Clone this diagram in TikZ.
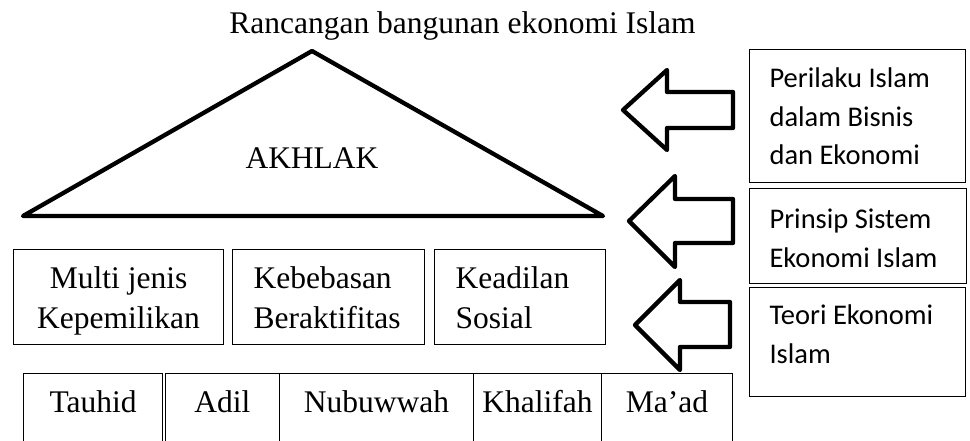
\documentclass[tikz,border=0pt]{standalone}
\usepackage{fontspec}
\setmainfont{Liberation Serif}
\newfontfamily\calfont{Carlito}
\begin{document}
\begin{tikzpicture}[x=1pt,y=-1pt,
  thinline/.style={draw, line width=1.1pt},
  thickline/.style={draw, line width=4.3pt, line join=round},
  serif/.style={font=\fontsize{31.5}{40}\selectfont},
  midbox/.style={thinline, serif, anchor=north west, inner sep=0pt,
    minimum height=95pt, text height=39pt, text depth=56pt},
  cellbox/.style={thinline, serif, anchor=north west, inner sep=0pt,
    minimum height=90pt, text height=39pt, text depth=51pt},
  rbox/.style={thinline, anchor=north west, inner sep=0pt,
    font=\calfont\fontsize{28.5}{38.5}\selectfont}
]
\useasboundingbox (0,0) rectangle (970,440);

% title
\node[serif, anchor=base] (title) at (462.5,33) {Rancangan bangunan ekonomi Islam};

% roof
\coordinate (tl) at (23,216);
\coordinate (tt) at (312,51);
\coordinate (tr) at (603,216);
\draw[thickline] (tl) -- (tt) -- (tr) -- cycle;
\node[serif, anchor=base] (akhlak) at (312,168) {AKHLAK};

% middle row
\node[midbox, minimum width=210pt] (kep) at (13,249)
  {\begin{tabular}[t]{@{}c@{}}Multi jenis\\Kepemilikan\end{tabular}};
\node[midbox, minimum width=192pt] (keb) at (232,249)
  {\makebox[150pt][l]{\begin{tabular}[t]{@{}l@{}}Kebebasan\\Beraktifitas\end{tabular}}};
\node[midbox, minimum width=171pt] (kead) at (434,249)
  {\makebox[129pt][l]{\begin{tabular}[t]{@{}l@{}}Keadilan\\Sosial\end{tabular}}};

% bottom row (runs off the lower edge)
\begin{scope}
\clip (0,0) rectangle (970,440);
\node[cellbox, minimum width=139pt] (tauhid) at (23,373) {Tauhid};
\node[cellbox, minimum width=114.5pt] (adil) at (164.5,373) {Adil};
\node[cellbox, minimum width=194pt] (nubu) at (279,373) {Nubuwwah};
\node[cellbox, minimum width=128pt] (khal) at (473,373) {Khalifah};
\node[cellbox, minimum width=131pt] (maad) at (601,373) {Ma’ad};
\end{scope}

% block arrows
\draw[thickline] (623,110) -- (667,70) -- (667,92) -- (733,92) -- (733,128)
  -- (667,128) -- (667,150) -- cycle;
\draw[thickline] (629,221) -- (675,176) -- (675,199) -- (733,199) -- (733,243)
  -- (675,243) -- (675,267) -- cycle;
\draw[thickline] (635,325) -- (680,280) -- (680,302) -- (730,302) -- (730,347)
  -- (680,347) -- (680,370) -- cycle;

% right boxes
\node[rbox, minimum width=216pt, minimum height=133pt, text height=38pt, text depth=95pt] (perilaku) at (749,49)
  {\makebox[176pt][l]{\begin{tabular}[t]{@{}l@{}}Perilaku Islam\\dalam Bisnis\\dan Ekonomi\end{tabular}}};
\node[rbox, minimum width=217pt, minimum height=95pt, text height=40pt, text depth=55pt] (prinsip) at (749,188)
  {\makebox[177pt][l]{\begin{tabular}[t]{@{}l@{}}Prinsip Sistem\\Ekonomi Islam\end{tabular}}};
\node[rbox, minimum width=216pt, minimum height=109pt, text height=37pt, text depth=72pt] (teori) at (749,287)
  {\makebox[176pt][l]{\begin{tabular}[t]{@{}l@{}}Teori Ekonomi\\Islam\end{tabular}}};
\end{tikzpicture}
\end{document}
